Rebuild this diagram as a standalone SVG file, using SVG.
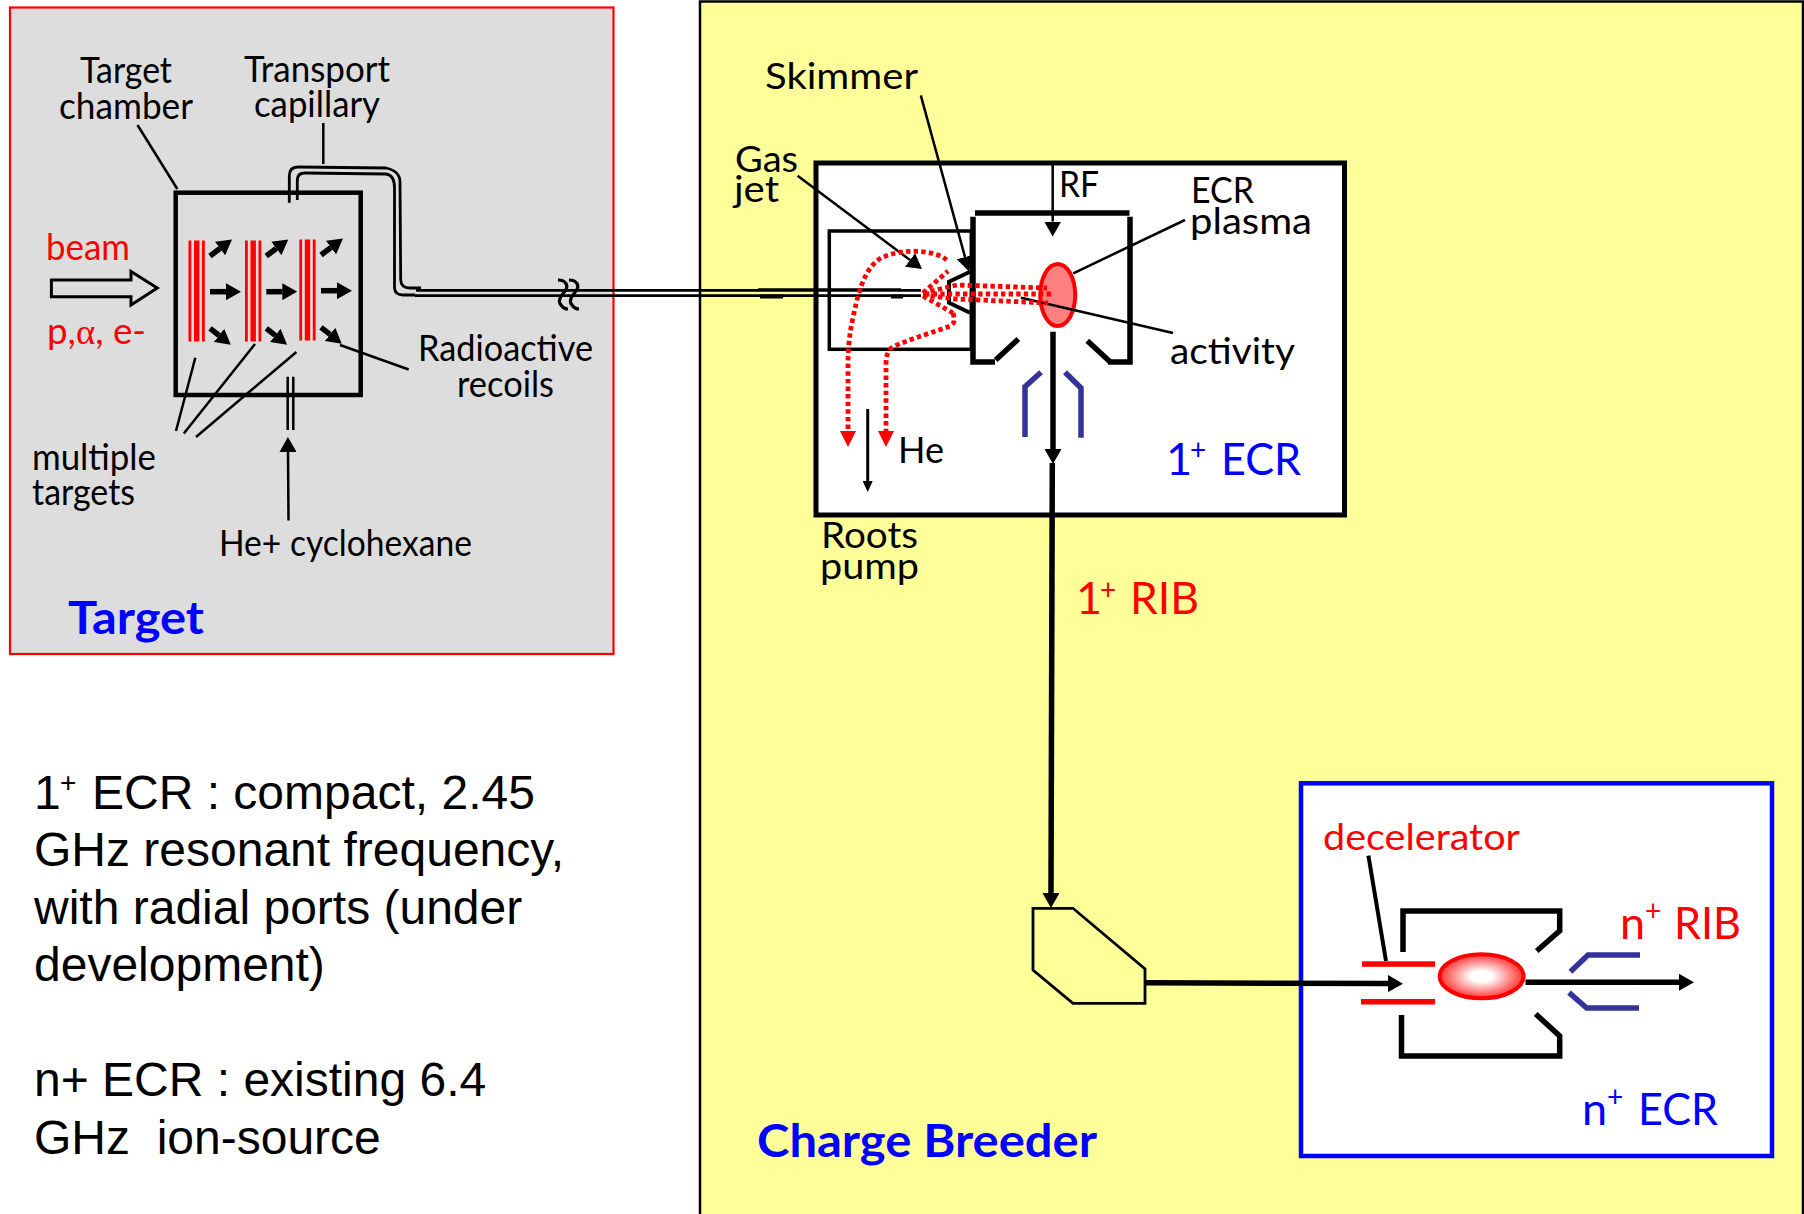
<svg xmlns="http://www.w3.org/2000/svg" xmlns:xlink="http://www.w3.org/1999/xlink" width="1804" height="1214" viewBox="0 0 1804 1214">
<style>
text{font-family:"Lato","Carlito","Liberation Sans",sans-serif;font-size:36px;fill:#000}
.r{fill:#f00}
.b{fill:#00f}
.bold{font-weight:700;font-size:46px}
.big{font-size:45px}
.sup{font-size:28px}
.arial{font-family:"Liberation Sans",Arial,sans-serif;font-size:48px}
.l{fill:none;stroke:#000;stroke-width:2.5}
.w3{fill:none;stroke:#000;stroke-width:3.5}
.w5{fill:none;stroke:#000;stroke-width:5.5}
.lens{fill:none;stroke:#333399;stroke-width:5.5}
.pipe{fill:none;stroke:#000;stroke-width:2.8}
.dot{fill:none;stroke:#f00;stroke-width:4.8;stroke-dasharray:4.4 3.2}
.bar{fill:#f00}
</style>
<defs>
<marker id="ah" markerUnits="userSpaceOnUse" markerWidth="15" markerHeight="17" refX="0" refY="8.5" orient="auto" viewBox="0 0 15 17"><polygon points="0,0 15,8.5 0,17" fill="#000"/></marker>
<marker id="ahr" markerUnits="userSpaceOnUse" markerWidth="16" markerHeight="16" refX="0" refY="8" orient="auto" viewBox="0 0 16 16"><polygon points="0,0 16,8 0,16" fill="#f00"/></marker>
<marker id="ahs" markerUnits="userSpaceOnUse" markerWidth="11" markerHeight="10" refX="0" refY="5" orient="auto" viewBox="0 0 11 10"><polygon points="0,0 11,5 0,10" fill="#000"/></marker>
<radialGradient id="glow"><stop offset="0" stop-color="#fff"/><stop offset="0.25" stop-color="#fff"/><stop offset="1" stop-color="#f33"/></radialGradient>
<g id="recoil">
<path d="M210,256 L220,248.5" stroke="#000" stroke-width="5.5" marker-end="url(#ah)"/>
<path d="M210,291.7 L226,291.7" stroke="#000" stroke-width="5.5" marker-end="url(#ah)"/>
<path d="M210,328.3 L219,335.4" stroke="#000" stroke-width="5.5" marker-end="url(#ah)"/>
</g>
<g id="foil">
<rect x="188.5" y="240.5" width="2.8" height="101" class="bar"/>
<rect x="194" y="240.5" width="5.4" height="101" class="bar"/>
<rect x="202" y="240.5" width="2.8" height="101" class="bar"/>
</g>
</defs>
<rect width="1804" height="1214" fill="#fff"/>

<g id="target-panel">
<rect x="10" y="7.5" width="603.5" height="646.5" fill="#ddd" stroke="#f00" stroke-width="2.2"/>
<text class="bold b" x="68" y="634" textLength="136" lengthAdjust="spacingAndGlyphs">Target</text>
</g>
<g id="breeder-panel">
<rect x="700" y="1.5" width="1103" height="1222" fill="#ffff99" stroke="#000" stroke-width="2.5"/>
<text class="bold b" x="757" y="1157" textLength="340" lengthAdjust="spacingAndGlyphs">Charge Breeder</text>
</g>

<g id="target-chamber">
<rect x="175.7" y="192.7" width="185" height="202.3" class="w5" style="stroke-width:4.5"/>
<use xlink:href="#foil"/>
<use xlink:href="#foil" transform="translate(56.5 0)"/>
<use xlink:href="#foil" transform="translate(110.8 -1)"/>
<use xlink:href="#recoil"/>
<use xlink:href="#recoil" transform="translate(56.3 0)"/>
<use xlink:href="#recoil" transform="translate(111 -1)"/>
<text x="80" y="83" textLength="92" lengthAdjust="spacingAndGlyphs">Target</text>
<text x="59" y="119" textLength="134" lengthAdjust="spacingAndGlyphs">chamber</text>
<text x="244" y="82" textLength="146" lengthAdjust="spacingAndGlyphs">Transport</text>
<text x="254" y="116.5" textLength="126" lengthAdjust="spacingAndGlyphs">capillary</text>
<text class="r" x="46" y="260" textLength="84" lengthAdjust="spacingAndGlyphs">beam</text>
<text class="r" x="47" y="344" textLength="99" lengthAdjust="spacingAndGlyphs">p,<tspan style="font-family:'Liberation Serif',serif">α</tspan>, e-</text>
<text x="418" y="361" textLength="175" lengthAdjust="spacingAndGlyphs">Radioactive</text>
<text x="457" y="396.5" textLength="97" lengthAdjust="spacingAndGlyphs">recoils</text>
<text x="32" y="470" textLength="124" lengthAdjust="spacingAndGlyphs">multiple</text>
<text x="32" y="505" textLength="103" lengthAdjust="spacingAndGlyphs">targets</text>
<text x="219" y="555.5" textLength="253" lengthAdjust="spacingAndGlyphs">He+ cyclohexane</text>
</g>

<g id="source-1plus">
<rect x="816" y="163" width="528.5" height="352" fill="#fff" stroke="#000" stroke-width="5"/>
<rect x="829.3" y="231" width="142" height="118.3" class="w3"/>
<path class="w5" d="M973,216.7 V362 H995"/>
<path class="w5" d="M995.7,360 L1018.3,339"/>
<path class="w5" d="M1087.3,340.7 L1110,361.7"/>
<path class="w5" d="M1108,362 H1130 V216.8"/>
<path class="w5" d="M975,213 H1129.5"/>
<path d="M970,271.7 L949,281.7 V302.7 L970,312.7" fill="none" stroke="#000" stroke-width="4"/>
<path class="lens" d="M1041,372.3 L1025,386.7 V437"/>
<path class="lens" d="M1065,372.3 L1081,388 V437.7"/>
<ellipse cx="1057.7" cy="295" rx="17.5" ry="31" fill="#ff8080" stroke="#f00" stroke-width="4"/>
<text x="735" y="172" textLength="63" lengthAdjust="spacingAndGlyphs">Gas</text>
<text x="734" y="201.7" textLength="45" lengthAdjust="spacingAndGlyphs">jet</text>
<text x="765" y="89" textLength="153" lengthAdjust="spacingAndGlyphs">Skimmer</text>
<text x="1059" y="197" textLength="40" lengthAdjust="spacingAndGlyphs">RF</text>
<text x="1191" y="203" textLength="63" lengthAdjust="spacingAndGlyphs">ECR</text>
<text x="1190" y="234" textLength="122" lengthAdjust="spacingAndGlyphs">plasma</text>
<text x="1170" y="364" textLength="125" lengthAdjust="spacingAndGlyphs">activity</text>
<text x="898" y="463" textLength="46" lengthAdjust="spacingAndGlyphs">He</text>
<text x="821" y="548" textLength="97" lengthAdjust="spacingAndGlyphs">Roots</text>
<text x="820" y="578.5" textLength="99" lengthAdjust="spacingAndGlyphs">pump</text>
<text class="big b"><tspan x="1166" y="474.5">1</tspan><tspan class="sup" x="1190" y="460">+</tspan><tspan x="1221" y="474.5" textLength="80" lengthAdjust="spacingAndGlyphs">ECR</tspan></text>
<text class="big r"><tspan x="1076" y="614">1</tspan><tspan class="sup" x="1100" y="600">+</tspan><tspan x="1130" y="614" textLength="69" lengthAdjust="spacingAndGlyphs">RIB</tspan></text>
</g>

<g id="selector">
<polygon points="1033,908.3 1073,908.3 1145,969 1145,1003.3 1073,1003.3 1033,970" fill="none" stroke="#000" stroke-width="2.8"/>
</g>

<g id="source-nplus">
<rect x="1301" y="783.3" width="471" height="372.7" fill="#fff" stroke="#00f" stroke-width="4.5"/>
<path class="w5" d="M1403,952 V911 H1559.7 V930.7 L1536.7,951"/>
<path class="w5" d="M1401.5,1015 V1056 H1559.7 V1036 L1535.7,1014"/>
<rect x="1362" y="961.3" width="73" height="5.5" fill="#f00"/>
<rect x="1361" y="999" width="74" height="5.5" fill="#f00"/>
<ellipse cx="1481.6" cy="976.3" rx="42" ry="22" fill="url(#glow)" stroke="#f00" stroke-width="4"/>
<path class="lens" d="M1570.4,971.7 L1588,955 H1640"/>
<path class="lens" d="M1569,992.7 L1586.7,1008 H1639"/>
<text class="r" x="1323" y="850" textLength="197" lengthAdjust="spacingAndGlyphs">decelerator</text>
<text class="big r"><tspan x="1620" y="939">n</tspan><tspan class="sup" x="1645" y="921">+</tspan><tspan x="1674" y="939" textLength="67" lengthAdjust="spacingAndGlyphs">RIB</tspan></text>
<text class="big b"><tspan x="1582" y="1125">n</tspan><tspan class="sup" x="1607" y="1107">+</tspan><tspan x="1638" y="1125" textLength="80" lengthAdjust="spacingAndGlyphs">ECR</tspan></text>
</g>

<g id="notes">
<text class="arial"><tspan x="34" y="809">1</tspan><tspan x="60" y="792" style="font-size:28px">+</tspan><tspan x="92" y="809">ECR : compact, 2.45</tspan></text>
<text class="arial" x="34" y="866">GHz resonant frequency,</text>
<text class="arial" x="34" y="924">with radial ports (under</text>
<text class="arial" x="34" y="981">development)</text>
<text class="arial" x="34" y="1096">n+ ECR : existing 6.4</text>
<text class="arial" x="34" y="1154">GHz&#160; ion-source</text>
</g>

<g id="connectors">
<path d="M51.4,280 H131 V271.5 L157.3,288 L131,305 V296.7 H51.4 Z" fill="none" stroke="#000" stroke-width="3"/>
<path class="l" d="M177.3,189 L137.5,125"/>
<path class="l" d="M323.3,123 V164"/>
<path class="l" d="M195.3,357.7 L176,431"/>
<path class="l" d="M255,344 L183.8,433.5"/>
<path class="l" d="M296.4,352 L196,437"/>
<path class="l" d="M340,345 L408.7,369.5"/>
<path class="l" d="M287.7,376.7 V430 M293.3,376.7 V430"/>
<path class="l" d="M288.5,520.6 L288,452" marker-end="url(#ah)"/>
<path class="pipe" d="M289.3,202.7 V176 Q289.3,167 298,167 L386,168 Q400,171 400,182 L400.7,280 Q401,288 410,288 L421,288"/>
<path class="pipe" d="M297.3,200 V180 Q297.3,173 305,173 L386,174 Q394.5,175 394.5,188 V288 Q395,295 403,295 L415,295"/>
<path class="pipe" d="M416,290.3 H921 M415,295.7 H921"/>
<path d="M758,289.5 H901" stroke="#000" stroke-width="2.5"/>
<path d="M760,296.5 H783 M891,296.5 H903" stroke="#000" stroke-width="4"/>
<path d="M558,280 C566,280 569,286 565,291 C561,296 557,301 561,305 C563,308 566,309 568,309" fill="none" stroke="#000" stroke-width="3.2"/>
<path d="M569,280 C577,280 580,286 576,291 C572,296 568,301 572,305 C574,308 577,309 579,309" fill="none" stroke="#000" stroke-width="3.2"/>
<path class="l" d="M797.6,175.7 L910,260" marker-end="url(#ah)"/>
<path class="l" d="M920.8,95.4 L965,257" marker-end="url(#ah)"/>
<path class="l" d="M1052.7,163 V221.5" marker-end="url(#ah)"/>
<path class="l" d="M1073.3,273.3 L1185,220"/>
<path class="l" d="M1021,297.7 L1173,333"/>
<path d="M867.7,409 V481" fill="none" stroke="#000" stroke-width="3" marker-end="url(#ahs)"/>
<path class="dot" d="M946.7,260 C935,250 905,248 883,257 C870,263 862,280 857,300 C851,325 848,340 848,365 V431" marker-end="url(#ahr)"/>
<path class="dot" d="M953,313 C955,320 955,323 950,326 C935,332 915,337 893,346.7 C888,350 886,355 886,365 V431" marker-end="url(#ahr)"/>
<path class="dot" d="M923,293 L948,271"/>
<path class="dot" d="M923,296 L953,313"/>
<path class="dot" d="M923,293 L957,285 L1047,288"/>
<path class="dot" d="M925,294 H1053"/>
<path class="dot" d="M923,295 L955,299 L1048,303"/>
<path class="w5" d="M1053,331.7 V449" marker-end="url(#ah)"/>
<path class="w5" d="M1052.3,463 L1051,893" marker-end="url(#ah)"/>
<path class="w5" d="M1145,982.7 L1388,983.6" marker-end="url(#ah)"/>
<path class="w3" d="M1368.4,855.7 L1386,961" style="stroke-width:4"/>
<path class="w5" d="M1525.5,982.3 H1679" marker-end="url(#ah)"/>
</g>
</svg>
